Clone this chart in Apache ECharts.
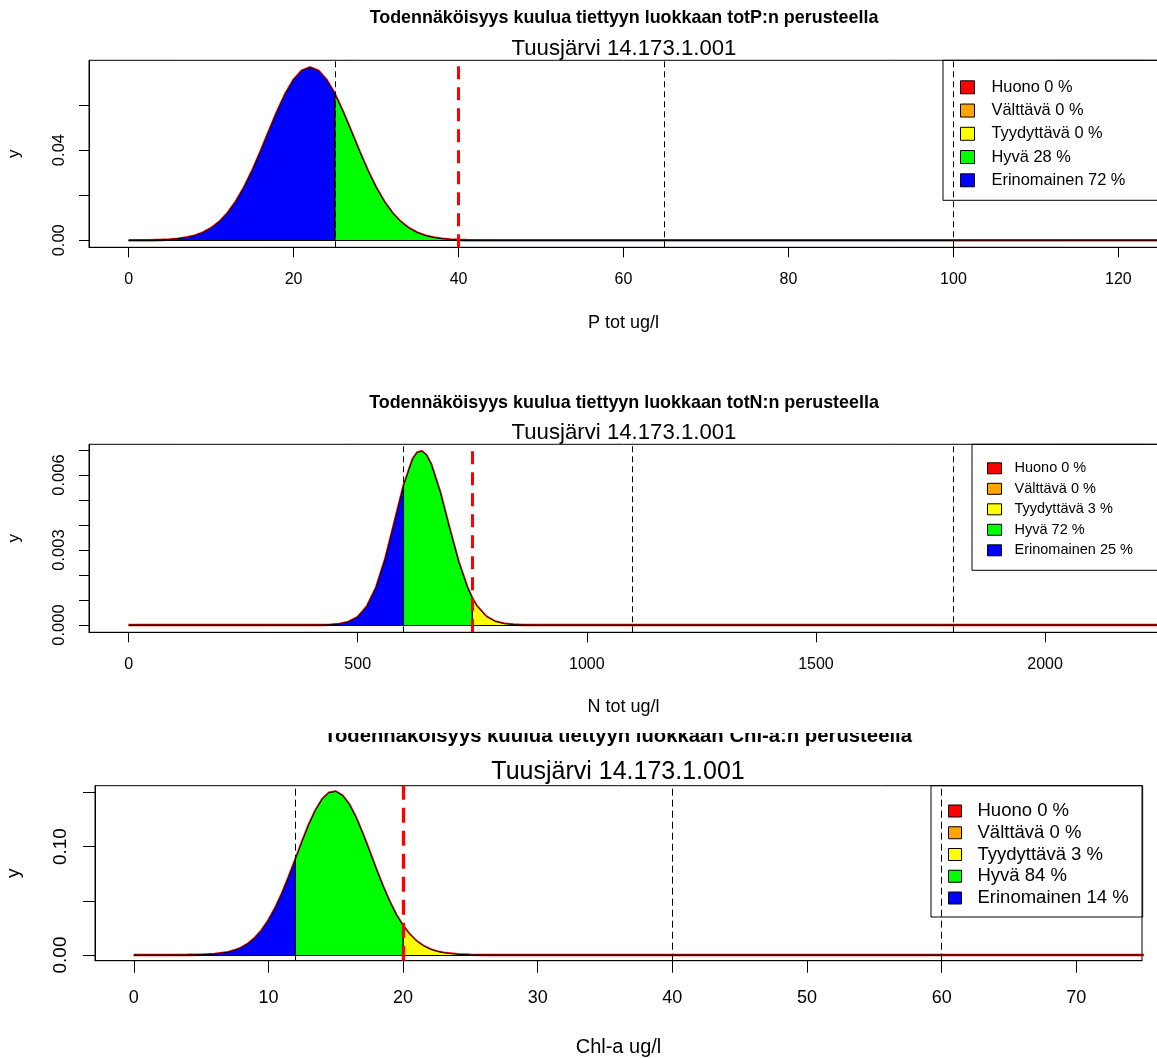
<!DOCTYPE html>
<html>
<head>
<meta charset="utf-8">
<script src="https://cdn.jsdelivr.net/npm/echarts@6/dist/echarts.min.js"></script>
<style>
  html, body { margin: 0; padding: 0; background: #ffffff; }
  #chart { width: 1157px; height: 1059px; }
</style>
</head>
<body>
<div id="chart"></div>
<script>
// Status classes, best to worst, with their fill colours
const classNames = ['Erinomainen', 'Hyvä', 'Tyydyttävä', 'Välttävä', 'Huono'];
const classColors = ['#0000ff', '#00ff00', '#ffff00', '#ffa500', '#ff0000'];
const siteName = 'Tuusjärvi 14.173.1.001';

// --- Total phosphorus (P tot ug/l) ---
const pX = [0, 1, 2, 3, 4, 5, 6, 7, 8, 9, 10, 11, 12, 13, 14, 15, 16, 17, 18, 19, 20, 21,
            22, 23, 24, 25, 26, 27, 28, 29, 30, 31, 32, 33, 34, 35, 36, 37, 38, 39, 40, 41,
            42, 43, 45, 65, 100, 130];
const pY = [0.00001, 0.00002, 0.00005, 0.00010, 0.00019, 0.00037, 0.00067, 0.00120, 0.00204,
            0.00337, 0.00534, 0.00818, 0.01206, 0.01713, 0.02346, 0.03095, 0.03936, 0.04824,
            0.05698, 0.06486, 0.07114, 0.07520, 0.07660, 0.07520, 0.07114, 0.06486, 0.05698,
            0.04824, 0.03936, 0.03095, 0.02346, 0.01713, 0.01206, 0.00818, 0.00534, 0.00337,
            0.00204, 0.00120, 0.00067, 0.00037, 0.00019, 0.00010, 0.00005, 0.00002, 0, 0, 0, 0];
const pLimits = [25, 40, 65, 100];
const pShares = [72, 28, 0, 0, 0];
const pXTicks = [0, 20, 40, 60, 80, 100, 120];
const pYTicks = [0, 0.02, 0.04, 0.06];
const pYLabels = [0, 0.04];

// --- Total nitrogen (N tot ug/l) ---
const nX = [0, 400, 420, 440, 460, 480, 500, 520, 540, 560, 580, 600, 620, 630, 640, 650, 660,
            680, 700, 720, 740, 750, 760, 780, 800, 820, 840, 860, 880, 1100, 1800, 2250];
const nY = [0, 0, 0.0000031, 0.0000120, 0.0000409, 0.000122, 0.000321, 0.000738, 0.001489,
            0.002633, 0.004086, 0.005561, 0.006638, 0.006904, 0.006950, 0.006790, 0.006441,
            0.005308, 0.003889, 0.002535, 0.001469, 0.001070, 0.000757, 0.000347, 0.000141,
            0.0000513, 0.0000166, 0.0000047, 0, 0, 0, 0];
const nLimits = [600, 750, 1100, 1800];
const nShares = [25, 72, 3, 0, 0];
const nXTicks = [0, 500, 1000, 1500, 2000];
const nYTicks = [0, 0.001, 0.002, 0.003, 0.004, 0.005, 0.006, 0.007];
const nYLabels = [0, 0.003, 0.006];

// --- Chlorophyll a (Chl-a ug/l) ---
const cX = [0, 3, 4, 5, 6, 7, 7.5, 8, 8.5, 9, 9.5, 10, 10.5, 11, 11.5, 12, 12.5, 13, 13.5, 14,
            14.5, 15, 15.5, 16, 16.5, 17, 17.5, 18, 18.5, 19, 19.5, 20, 20.5, 21, 21.5, 22,
            22.5, 23, 24, 25, 26, 27, 40, 60, 80];
const cY = [0, 0, 0.00007, 0.00025, 0.00087, 0.00260, 0.00429, 0.00684, 0.01055, 0.01577,
            0.02279, 0.03189, 0.04317, 0.05655, 0.07171, 0.08799, 0.1045, 0.1201, 0.1335,
            0.1437, 0.1497, 0.1508, 0.1471, 0.1389, 0.1269, 0.1121, 0.09594, 0.07943, 0.06363,
            0.04935, 0.03703, 0.02688, 0.01889, 0.01285, 0.00846, 0.00538, 0.00332, 0.00198,
            0.00064, 0.00018, 0.00004, 0, 0, 0, 0];
const cLimits = [12, 20, 40, 60];
const cShares = [14, 84, 3, 0, 0];
const cXTicks = [0, 10, 20, 30, 40, 50, 60, 70];
const cYTicks = [0, 0.05, 0.10, 0.15];
const cYLabels = [0, 0.10];

const FONT = "'Liberation Sans', Arial, sans-serif";

// Per-panel data plus the layout it is drawn with
const panels = [
  {
    title: 'Todennäköisyys kuulua tiettyyn luokkaan totP:n perusteella', xName: 'P tot ug/l',
    xs: pX, ys: pY, limits: pLimits, shares: pShares,
    xTicks: pXTicks, yTicks: pYTicks, yLabels: pYLabels, digits: 2,
    grid: { left: 89, top: 60.3, width: 1069, height: 187 },
    xRange: [-4.8, 124.8], yRange: [-0.0031, 0.0798],
    centerX: 624, titleY: 17.8, subY: 48.9, titleSize: 17.9, subSize: 22.2,
    xTickFont: 16, yTickFont: 16.5, nameFont: 18, yNameFont: 17,
    tickLen: 10, xLabelMargin: 24.5, yLabelMargin: 21, xNameGap: 66.5, yNameGap: 66,
    legend: { left: 943, top: 60.3, padding: [17.5, 33, 10.5, 17], w: 14, h: 13, gap: 4.25,
              font: 16.4, lh: 19, textPad: 12 },
    dash: [6, 4], redDash: [13, 8], redWidth: 3
  },
  {
    title: 'Todennäköisyys kuulua tiettyyn luokkaan totN:n perusteella', xName: 'N tot ug/l',
    xs: nX, ys: nY, limits: nLimits, shares: nShares,
    xTicks: nXTicks, yTicks: nYTicks, yLabels: nYLabels, digits: 3,
    grid: { left: 89, top: 444.3, width: 1069, height: 188 },
    xRange: [-86.4, 2246.4], yRange: [-0.00029, 0.00723],
    centerX: 624, titleY: 403.1, subY: 433.2, titleSize: 17.9, subSize: 22.2,
    xTickFont: 16, yTickFont: 16.5, nameFont: 18, yNameFont: 17,
    tickLen: 10, xLabelMargin: 24.5, yLabelMargin: 21, xNameGap: 66, yNameGap: 66,
    legend: { left: 972, top: 444.3, padding: [15.5, 25, 11.5, 15], w: 14, h: 11, gap: 3.5,
              font: 14.5, lh: 17, textPad: 8 },
    dash: [6, 4], redDash: [13, 8], redWidth: 3
  },
  {
    title: 'Todennäköisyys kuulua tiettyyn luokkaan Chl-a:n perusteella', xName: 'Chl-a ug/l',
    xs: cX, ys: cY, limits: cLimits, shares: cShares,
    xTicks: cXTicks, yTicks: cYTicks, yLabels: cYLabels, digits: 2,
    grid: { left: 95, top: 785.7, width: 1047, height: 175 },
    xRange: [-2.88, 74.88], yRange: [-0.00526, 0.1562],
    centerX: 618, titleY: 736.3, subY: 772.3, titleSize: 20.3, subSize: 25,
    xTickFont: 18, yTickFont: 19, nameFont: 20, yNameFont: 19,
    tickLen: 12, xLabelMargin: 28.3, yLabelMargin: 25, xNameGap: 76.5, yNameGap: 72,
    legend: { left: 931, top: 785.7, padding: [15.3, 14, 9, 17], w: 13, h: 12, gap: 1.75,
              font: 18.5, lh: 20, textPad: 11 },
    dash: [7, 4], redDash: [15, 8], redWidth: 3.3
  }
];

const option = {
  animation: false,
  backgroundColor: '#ffffff',
  title: [], grid: [], xAxis: [], yAxis: [], legend: [], series: [],
  graphic: []
};

panels.forEach((p, i) => {
  const lastX = p.xs[p.xs.length - 1];
  const curve = p.xs.map((x, j) => [x, p.ys[j]]);

  option.title.push(
    { text: p.title, left: p.centerX, top: p.titleY, padding: 0, textAlign: 'center', textVerticalAlign: 'middle',
      textStyle: { fontFamily: FONT, fontSize: p.titleSize, fontWeight: 'bold', color: '#000' } },
    { text: siteName, left: p.centerX, top: p.subY, padding: 0, textAlign: 'center', textVerticalAlign: 'middle',
      textStyle: { fontFamily: FONT, fontSize: p.subSize, fontWeight: 'normal', color: '#000' } }
  );

  option.grid.push(Object.assign({ show: true, borderColor: '#000', borderWidth: 1,
    backgroundColor: 'transparent', containLabel: false, outerBoundsMode: 'none' }, p.grid));

  option.xAxis.push({
    gridIndex: i, type: 'value', min: p.xRange[0], max: p.xRange[1],
    name: p.xName, nameLocation: 'middle', nameGap: p.xNameGap,
    nameTextStyle: { fontFamily: FONT, fontSize: p.nameFont, color: '#000' },
    axisLine: { show: true, onZero: false, lineStyle: { color: '#000', width: 1 } },
    axisTick: { show: true, inside: false, length: p.tickLen, customValues: p.xTicks,
                lineStyle: { color: '#000', width: 1 } },
    axisLabel: { show: true, customValues: p.xTicks, margin: p.xLabelMargin,
                 formatter: v => String(v),
                 fontFamily: FONT, fontSize: p.xTickFont, color: '#000' },
    splitLine: { show: false }
  });

  option.yAxis.push({
    gridIndex: i, type: 'value', min: p.yRange[0], max: p.yRange[1],
    name: 'y', nameLocation: 'middle', nameGap: p.yNameGap, nameRotate: 90,
    nameTextStyle: { fontFamily: FONT, fontSize: p.yNameFont, color: '#000' },
    axisLine: { show: true, onZero: false, lineStyle: { color: '#000', width: 1 } },
    axisTick: { show: true, inside: false, length: p.tickLen, customValues: p.yTicks,
                lineStyle: { color: '#000', width: 1 } },
    axisLabel: { show: true, customValues: p.yLabels, rotate: 90, margin: p.yLabelMargin,
                 formatter: v => Number(v).toFixed(p.digits),
                 fontFamily: FONT, fontSize: p.yTickFont, color: '#000' },
    splitLine: { show: false }
  });

  // Density curve (red), drawn underneath the class polygons
  option.series.push({
    type: 'line', name: 'density-' + i, xAxisIndex: i, yAxisIndex: i,
    data: curve, showSymbol: false, symbol: 'none', silent: true, z: 2,
    lineStyle: { color: '#ff0000', width: 2.6 }
  });

  // One filled polygon per status class, cut at the class limits
  const names = [];
  classNames.forEach((cls, k) => {
    const lo = k === 0 ? p.xs[0] : p.limits[k - 1];
    const hi = k === classNames.length - 1 ? lastX : p.limits[k];
    const pts = [[lo, 0]];
    curve.forEach(pt => { if (pt[0] >= lo && pt[0] <= hi) pts.push(pt); });
    pts.push([hi, 0]);
    const name = cls + ' ' + p.shares[k] + ' %';
    names.push({ name, itemStyle: { color: classColors[k], borderColor: '#000', borderWidth: 1 } });
    option.series.push({
      type: 'line', name, xAxisIndex: i, yAxisIndex: i, data: pts,
      showSymbol: false, symbol: 'none', silent: true, z: 3, color: classColors[k],
      lineStyle: { color: '#000', width: 1 },
      areaStyle: { color: classColors[k], opacity: 1, origin: 0 },
      markLine: {
        silent: true, symbol: ['none', 'none'], label: { show: false }, animation: false,
        lineStyle: { color: '#000', width: 1, type: 'solid' },
        data: [[{ coord: [lo, 0] }, { coord: [hi, 0] }]]
      }
    });
  });

  // Class limits: black dashed, the good/moderate limit in thick red dashes
  option.series.push({
    type: 'line', name: 'limits-' + i, xAxisIndex: i, yAxisIndex: i, data: [],
    silent: true, z: 4,
    markLine: {
      silent: true, symbol: ['none', 'none'], label: { show: false }, animation: false,
      data: p.limits.map((v, k) => k === 1
        ? { xAxis: v, lineStyle: { color: '#ff0000', width: p.redWidth, type: p.redDash } }
        : { xAxis: v, lineStyle: { color: '#000', width: 1, type: p.dash } })
    }
  });

  option.legend.push({
    orient: 'vertical', left: p.legend.left, top: p.legend.top, padding: p.legend.padding,
    itemWidth: p.legend.w, itemHeight: p.legend.h, itemGap: p.legend.gap,
    icon: 'rect', selectedMode: false, borderColor: '#000', borderWidth: 1, borderRadius: 0,
    backgroundColor: 'transparent',
    itemStyle: { borderColor: '#000', borderWidth: 1 },
    textStyle: { fontFamily: FONT, fontSize: p.legend.font, lineHeight: p.legend.lh,
                 color: '#000', padding: [0, 0, 0, p.legend.textPad] },
    data: names.slice().reverse()
  });
});

// The third panel's heading sits partly under the panel above it
option.graphic.push({
  type: 'rect', z: 100, silent: true,
  shape: { x: 290, y: 717, width: 660, height: 16 },
  style: { fill: '#ffffff' }
});

const chart = echarts.init(document.getElementById('chart'), null, { renderer: 'canvas' });
chart.setOption(option);
</script>
</body>
</html>
